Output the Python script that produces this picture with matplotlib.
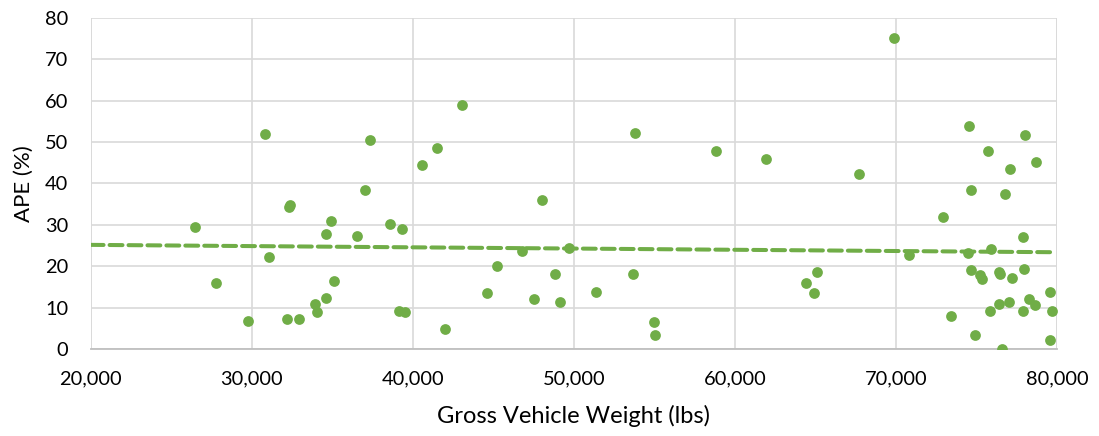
import numpy as np
import matplotlib
matplotlib.use("Agg")
import matplotlib.pyplot as plt
from matplotlib.ticker import FuncFormatter

plt.rcParams['font.family'] = ['Lato', 'DejaVu Sans']

gvw = [26473, 27772, 29777, 30848, 31052, 32209, 32290, 32376, 32908, 33898,
       34022, 34622, 34604, 34913, 35136, 36541, 37036, 37345, 38601, 39325,
       39140, 39511, 40545, 41510, 42005, 43082, 44585, 45223, 46795, 47556,
       48051, 48837, 49165, 49722, 51374, 53701, 53806, 54963, 55062, 58818,
       61955, 64387, 64882, 65087, 67686, 69852, 70780, 72908, 73441, 74536,
       74493, 74660, 74678, 74926, 75198, 75322, 75730, 75817, 75879, 76411,
       76411, 76473, 76597, 76745, 77030, 77092, 77216, 77897, 77897, 77939,
       78020, 78249, 78620, 78682, 79548, 79567, 79672]
ape = [29.4, 16.0, 6.9, 51.9, 22.2, 7.2, 34.3, 34.8, 7.2, 10.8,
       9.0, 27.8, 12.4, 31.0, 16.4, 27.3, 38.5, 50.4, 30.2, 29.0,
       9.3, 9.0, 44.5, 48.5, 4.9, 58.9, 13.5, 20.1, 23.7, 12.0,
       35.9, 18.2, 11.4, 24.4, 13.8, 18.2, 52.1, 6.6, 3.45, 47.8,
       45.9, 16.0, 13.5, 18.6, 42.3, 75.1, 22.7, 31.9, 8.1, 53.9,
       23.1, 38.5, 19.0, 3.4, 17.9, 16.9, 47.9, 9.3, 24.2, 10.9,
       18.7, 18.2, 0.0, 37.5, 11.3, 43.4, 17.2, 9.3, 27.0, 19.3,
       51.6, 12.1, 10.6, 45.1, 13.8, 2.2, 9.2]

x_ticks = [20000, 30000, 40000, 50000, 60000, 70000, 80000]
y_ticks = [0, 10, 20, 30, 40, 50, 60, 70, 80]

green = '#70AD47'

fig = plt.figure(figsize=(10.99, 4.36), dpi=100)
ax = fig.add_axes([0.0825, 0.199, 0.8793, 0.7605])

ax.scatter(gvw, ape, s=60, color=green, zorder=3, linewidths=0)

# linear trendline (fit from data), backward-extended to axis start
coef = np.polyfit(gvw, ape, 1)
tx = np.array([20000, max(gvw)])
ax.plot(tx, np.polyval(coef, tx), color=green, lw=2.9, ls=(0, (3.2, 1.5)),
        dash_capstyle='round', zorder=2)

ax.set_xlim(20000, 80000)
ax.set_ylim(0, 80)
ax.set_xticks(x_ticks)
ax.set_yticks(y_ticks)
ax.xaxis.set_major_formatter(FuncFormatter(lambda v, p: f"{int(v):,}"))
ax.grid(True, color='#D9D9D9', lw=1.2, zorder=0)
ax.set_axisbelow(True)
for s in ['top', 'right', 'left']:
    ax.spines[s].set_visible(False)
ax.spines['bottom'].set_color('#BFBFBF')
ax.spines['bottom'].set_linewidth(1.3)
ax.tick_params(length=0, labelsize=14.4, colors='#000000')
ax.tick_params(axis='x', pad=15.5)
ax.tick_params(axis='y', pad=16)
ax.axvline(80000, color='#D9D9D9', lw=1.2, zorder=0)
ax.axvline(20000, color='#D9D9D9', lw=1.2, zorder=0)

ax.set_xlabel('Gross Vehicle Weight (lbs)', fontsize=17, labelpad=12)
ax.set_ylabel('APE (%)', fontsize=16, labelpad=8)

fig.savefig('out.png', dpi=100)
